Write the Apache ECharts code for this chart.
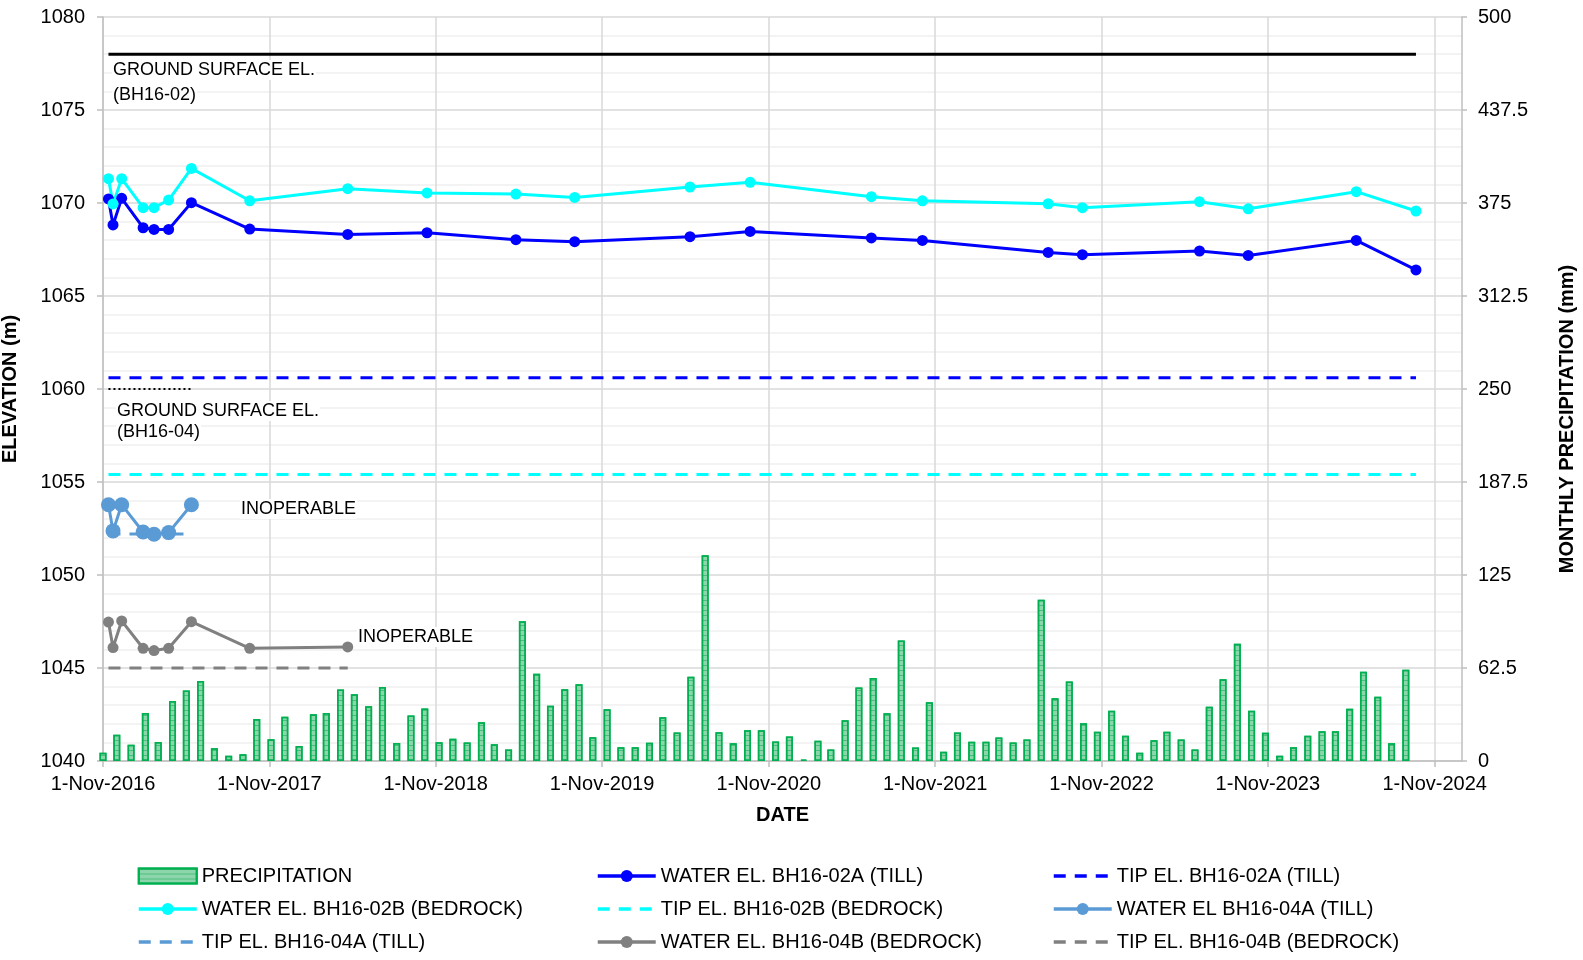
<!DOCTYPE html>
<html>
<head>
<meta charset="utf-8">
<title>Water elevations and monthly precipitation</title>
<script src="https://cdn.jsdelivr.net/npm/echarts@6/dist/echarts.min.js"></script>
<style>
html, body { margin: 0; padding: 0; background: #fff; }
#chart { width: 1583px; height: 960px; }
</style>
</head>
<body>
<div id="chart"></div>
<script>
var FONT = '"Liberation Sans", Arial, sans-serif';
var MONTHS = ['Jan', 'Feb', 'Mar', 'Apr', 'May', 'Jun', 'Jul', 'Aug', 'Sep', 'Oct', 'Nov', 'Dec'];

// site visits (same dates for every well, 04A/04B stop early)
var visitDates = ['2016-11-13', '2016-11-23', '2016-12-12', '2017-01-28', '2017-02-21', '2017-03-25',
	'2017-05-14', '2017-09-19', '2018-04-22', '2018-10-13', '2019-04-26', '2019-09-02',
	'2020-05-12', '2020-09-21', '2021-06-14', '2021-10-04', '2022-07-07', '2022-09-20',
	'2023-06-04', '2023-09-19', '2024-05-13', '2024-09-21'];
var waterBH1602A = [1070.22, 1068.82, 1070.25, 1068.67, 1068.58, 1068.58, 1070.02, 1068.60, 1068.31, 1068.40,
	1068.03, 1067.92, 1068.19, 1068.47, 1068.12, 1067.99, 1067.34, 1067.22, 1067.42, 1067.18, 1067.99, 1066.40];
var waterBH1602B = [1071.31, 1069.95, 1071.31, 1069.75, 1069.75, 1070.16, 1071.86, 1070.12, 1070.77, 1070.54,
	1070.48, 1070.30, 1070.86, 1071.11, 1070.34, 1070.12, 1069.96, 1069.75, 1070.07, 1069.69, 1070.61, 1069.57];
var waterBH1604A = [1053.78, 1052.37, 1053.78, 1052.31, 1052.19, 1052.28, 1053.78];
var waterBH1604B = [1047.47, 1046.10, 1047.53, 1046.06, 1045.94, 1046.06, 1047.49, 1046.06, 1046.13];

// constant elevations
var tipBH1602A = 1060.6;
var tipBH1602B = 1055.4;
var tipBH1604A = 1052.2;
var tipBH1604B = 1045.0;
var groundBH1602 = 1078.0;
var groundBH1604 = 1060.0;

// monthly precipitation (mm)
var precipMonths = [
	'2016-11-01', '2016-12-01',
	'2017-01-01', '2017-02-01', '2017-03-01', '2017-04-01', '2017-05-01', '2017-06-01', '2017-07-01', '2017-08-01', '2017-09-01', '2017-10-01', '2017-11-01', '2017-12-01',
	'2018-01-01', '2018-02-01', '2018-03-01', '2018-04-01', '2018-05-01', '2018-06-01', '2018-07-01', '2018-08-01', '2018-09-01', '2018-10-01', '2018-11-01', '2018-12-01',
	'2019-01-01', '2019-02-01', '2019-03-01', '2019-04-01', '2019-05-01', '2019-06-01', '2019-07-01', '2019-08-01', '2019-09-01', '2019-10-01', '2019-11-01', '2019-12-01',
	'2020-01-01', '2020-02-01', '2020-03-01', '2020-04-01', '2020-05-01', '2020-06-01', '2020-07-01', '2020-08-01', '2020-09-01', '2020-10-01', '2020-11-01', '2020-12-01',
	'2021-01-01', '2021-02-01', '2021-03-01', '2021-04-01', '2021-05-01', '2021-06-01', '2021-07-01', '2021-08-01', '2021-09-01', '2021-10-01', '2021-11-01', '2021-12-01',
	'2022-01-01', '2022-02-01', '2022-03-01', '2022-04-01', '2022-05-01', '2022-06-01', '2022-07-01', '2022-08-01', '2022-09-01', '2022-10-01', '2022-11-01', '2022-12-01',
	'2023-01-01', '2023-02-01', '2023-03-01', '2023-04-01', '2023-05-01', '2023-06-01', '2023-07-01', '2023-08-01', '2023-09-01', '2023-10-01', '2023-11-01', '2023-12-01',
	'2024-01-01', '2024-02-01', '2024-03-01', '2024-04-01', '2024-05-01', '2024-06-01', '2024-07-01', '2024-08-01'];
var precipValues = [
	5.6, 17.7,
	11.0, 32.3, 12.8, 40.3, 47.3, 53.8, 8.5, 3.6, 4.5, 28.2, 14.6, 29.8,
	10.1, 31.4, 32.3, 48.0, 44.8, 36.8, 49.7, 12.1, 30.5, 35.2, 12.6, 15.0,
	12.4, 26.0, 11.2, 7.7, 94.0, 58.6, 37.1, 48.3, 51.6, 16.0, 34.8, 9.3,
	9.3, 12.2, 29.4, 19.2, 56.6, 138.3, 19.4, 12.0, 20.7, 20.7, 13.1, 16.5,
	1.0, 13.6, 7.7, 27.4, 49.4, 55.7, 32.1, 81.0, 9.1, 39.5, 6.2, 19.2,
	12.9, 12.9, 15.8, 12.4, 14.4, 108.3, 42.2, 53.4, 25.4, 19.6, 33.7, 16.9,
	5.5, 14.0, 19.6, 14.4, 7.7, 36.4, 55.0, 78.8, 33.7, 19.0, 3.5, 9.3,
	16.9, 20.0, 20.0, 35.1, 59.9, 43.1, 12.0, 61.3];

// axes
var dateTicks = ['2016-11-01', '2017-11-01', '2018-11-01', '2019-11-01', '2020-11-01',
	'2021-11-01', '2022-11-01', '2023-11-01', '2024-11-01'];
var dateMin = '2016-11-01';
var dateMax = '2024-12-31';
var precipDateMax = '2024-12-01';
var elevMin = 1040, elevMax = 1080, elevStep = 5;
var precipMin = 0, precipMax = 500, precipStep = 62.5;

function toTime(s) {
	var p = s.split('-');
	return new Date(+p[0], +p[1] - 1, +p[2]).getTime();
}
function pairs(dates, vals) {
	var out = [];
	for (var i = 0; i < vals.length; i++) {
		out.push([toTime(dates[i]), vals[i]]);
	}
	return out;
}
function flat(d0, d1, v) {
	return [[toTime(d0), v], [toTime(d1), v]];
}
function fmtDate(v) {
	var d = new Date(v);
	return d.getDate() + '-' + MONTHS[d.getMonth()] + '-' + d.getFullYear();
}

var first = visitDates[0];
var last = visitDates[visitDates.length - 1];
var tickTimes = dateTicks.map(toTime);

function waterSeries(name, color, vals, size) {
	return {
		name: name,
		type: 'line',
		data: pairs(visitDates, vals),
		symbol: 'circle',
		symbolSize: size,
		color: color,
		lineStyle: { color: color, width: 3 },
		itemStyle: { color: color },
		emphasis: { disabled: true },
		z: 5
	};
}
function tipSeries(name, color, d1, v) {
	return {
		name: name,
		type: 'line',
		data: flat(first, d1, v),
		symbol: 'none',
		color: color,
		lineStyle: { color: color, width: 3, type: [12, 9] },
		emphasis: { disabled: true },
		z: 4
	};
}
// tip lines have no markers, so hide the dot in their legend icon
function tipItem(name) {
	return { name: name, itemStyle: { opacity: 0 } };
}

var zsChart = echarts.init(document.getElementById('chart'), null, { renderer: 'canvas' });

var legendText = { fontSize: 20, fontFamily: FONT, color: '#000', lineHeight: 20 };
function legendCol(left, names) {
	return {
		data: names,
		orient: 'vertical',
		left: left,
		top: 866,
		padding: 0,
		itemWidth: 58,
		itemHeight: 15,
		itemGap: 13,
		selectedMode: false,
		lineStyle: { width: 3.5 },
		textStyle: legendText
	};
}
function noteText(x, y, txt) {
	return {
		type: 'text', x: x, y: y, z: 50,
		style: {
			text: txt, fontSize: 18, fontFamily: FONT, fill: '#000',
			verticalAlign: 'middle', backgroundColor: '#fff', padding: [1, 1]
		}
	};
}

var option = {
	animation: false,
	backgroundColor: '#fff',
	textStyle: { fontFamily: FONT },
	grid: { left: 103, right: 121, top: 17, bottom: 199, containLabel: false, outerBoundsMode: 'none' },
	legend: [
		legendCol(137, [{ name: 'PRECIPITATION', icon: 'rect', itemHeight: 11 }, 'WATER EL. BH16-02B (BEDROCK)', tipItem('TIP EL. BH16-04A (TILL)')]),
		legendCol(596, ['WATER EL. BH16-02A (TILL)', tipItem('TIP EL. BH16-02B (BEDROCK)'), 'WATER EL. BH16-04B (BEDROCK)']),
		legendCol(1052, [tipItem('TIP EL. BH16-02A (TILL)'), 'WATER EL BH16-04A (TILL)', tipItem('TIP EL. BH16-04B (BEDROCK)')])
	],
	xAxis: [
		{
			type: 'value',
			min: toTime(dateMin),
			max: toTime(dateMax),
			name: 'DATE',
			nameLocation: 'middle',
			nameGap: 44,
			nameTextStyle: { fontSize: 20, fontWeight: 'bold', color: '#000', fontFamily: FONT },
			axisLine: { show: true, lineStyle: { color: '#BFBFBF', width: 1.5 } },
			axisTick: { show: true, length: 6, customValues: tickTimes, lineStyle: { color: '#BFBFBF', width: 1.5 } },
			axisLabel: {
				customValues: tickTimes,
				formatter: fmtDate,
				fontSize: 20,
				color: '#000',
				fontFamily: FONT,
				margin: 13,
				hideOverlap: false
			},
			splitLine: { show: true, lineStyle: { color: '#D9D9D9', width: 1.5 } }
		},
		{
			type: 'value',
			min: toTime(dateMin),
			max: toTime(precipDateMax),
			show: false
		}
	],
	yAxis: [
		{
			type: 'value',
			position: 'left',
			min: elevMin,
			max: elevMax,
			interval: elevStep,
			name: 'ELEVATION (m)',
			nameLocation: 'middle',
			nameRotate: 90,
			nameGap: 83,
			nameTextStyle: { fontSize: 20, fontWeight: 'bold', color: '#000', fontFamily: FONT },
			axisLine: { show: true, lineStyle: { color: '#BFBFBF', width: 1.5 } },
			axisTick: { show: true, length: 6, lineStyle: { color: '#BFBFBF', width: 1.5 } },
			axisLabel: { fontSize: 20, color: '#000', fontFamily: FONT, margin: 18, formatter: function (v) { return String(v); } },
			splitLine: { show: true, lineStyle: { color: '#D9D9D9', width: 1.5 } },
			minorTick: { show: false, splitNumber: 5 },
			minorSplitLine: { show: true, lineStyle: { color: '#EFEFEF', width: 1.5 } }
		},
		{
			type: 'value',
			position: 'right',
			min: precipMin,
			max: precipMax,
			interval: precipStep,
			name: 'MONTHLY PRECIPITATION (mm)',
			nameLocation: 'middle',
			nameRotate: 90,
			nameGap: 95,
			nameTextStyle: { fontSize: 20, fontWeight: 'bold', color: '#000', fontFamily: FONT, padding: [0, 60, 0, 0] },
			axisLine: { show: true, lineStyle: { color: '#BFBFBF', width: 1.5 } },
			axisTick: { show: true, length: 5, lineStyle: { color: '#BFBFBF', width: 1.5 } },
			axisLabel: { fontSize: 20, color: '#000', fontFamily: FONT, margin: 16, formatter: function (v) { return String(v); } },
			splitLine: { show: false }
		}
	],
	graphic: [
		noteText(112, 70, 'GROUND SURFACE EL.'),
		noteText(112, 95, '(BH16-02)'),
		noteText(116, 411, 'GROUND SURFACE EL.'),
		noteText(116, 432, '(BH16-04)'),
		noteText(240, 509, 'INOPERABLE'),
		noteText(357, 637, 'INOPERABLE')
	],
	series: [
		{
			name: 'PRECIPITATION',
			type: 'bar',
			xAxisIndex: 1,
			yAxisIndex: 1,
			barWidth: 7,
			data: pairs(precipMonths, precipValues),
			color: '#8DD6AC',
			itemStyle: {
				color: '#8DD6AC',
				borderColor: '#00B050',
				borderWidth: 1.5,
				decal: {
					symbol: 'rect',
					symbolSize: 1,
					dashArrayX: [1, 0],
					dashArrayY: [1, 4],
					color: 'rgba(0,160,70,0.45)'
				}
			},
			emphasis: { disabled: true },
			z: 2
		},
		waterSeries('WATER EL. BH16-02A (TILL)', '#0000FF', waterBH1602A, 11),
		waterSeries('WATER EL. BH16-02B (BEDROCK)', '#00FFFF', waterBH1602B, 11),
		waterSeries('WATER EL BH16-04A (TILL)', '#5B9BD5', waterBH1604A, 15),
		waterSeries('WATER EL. BH16-04B (BEDROCK)', '#808080', waterBH1604B, 11),
		tipSeries('TIP EL. BH16-02A (TILL)', '#0000FF', last, tipBH1602A),
		tipSeries('TIP EL. BH16-02B (BEDROCK)', '#00FFFF', last, tipBH1602B),
		tipSeries('TIP EL. BH16-04A (TILL)', '#5B9BD5', visitDates[6], tipBH1604A),
		tipSeries('TIP EL. BH16-04B (BEDROCK)', '#808080', visitDates[8], tipBH1604B),
		{
			name: 'GROUND SURFACE EL. (BH16-02)',
			type: 'line',
			data: flat(first, last, groundBH1602),
			symbol: 'none',
			color: '#000',
			lineStyle: { color: '#000', width: 3 },
			emphasis: { disabled: true },
			z: 4
		},
		{
			name: 'GROUND SURFACE EL. (BH16-04)',
			type: 'line',
			data: flat(first, visitDates[6], groundBH1604),
			symbol: 'none',
			color: '#000',
			lineStyle: { color: '#000', width: 2, type: [2, 3] },
			emphasis: { disabled: true },
			z: 4
		}
	]
};

zsChart.setOption(option);
window.addEventListener('resize', function () {
	zsChart.resize();
});
</script>
</body>
</html>
